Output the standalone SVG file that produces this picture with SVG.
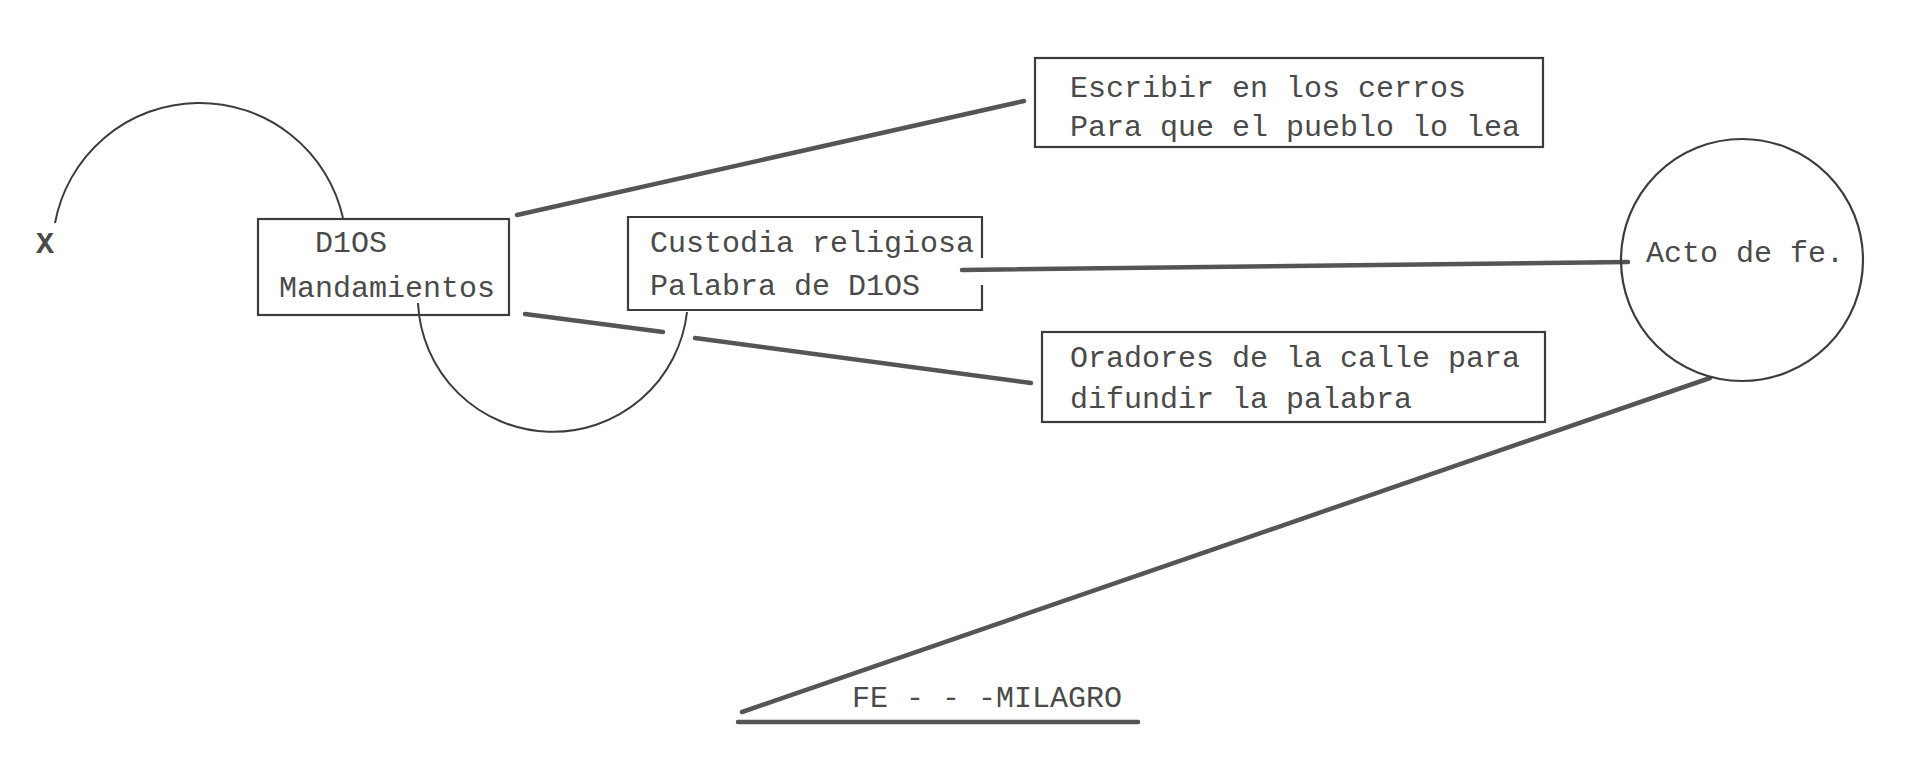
<svg xmlns="http://www.w3.org/2000/svg" width="1920" height="776" viewBox="0 0 1920 776">
  <style>
    .box { fill: none; stroke: #3c3c3c; stroke-width: 2.2; }
    .t { font-family: "Liberation Mono", "Courier New", monospace; font-size: 30px; fill: #4a4a4a; }
    .thick { stroke: #555; stroke-width: 4.5; stroke-linecap: round; fill: none; }
    .arc { stroke: #3c3c3c; stroke-width: 2; fill: none; }
  </style>
  <rect width="1920" height="776" fill="#ffffff"/>

  <g id="connectors">
    <path class="arc" d="M 55 223 A 147 147 0 0 1 343 218"/>
    <path class="arc" d="M 418 303 A 135 135 0 0 0 687 312"/>
    <line class="thick" x1="517" y1="215" x2="1024" y2="101"/>
    <line class="thick" x1="525" y1="314" x2="663" y2="332"/>
    <line class="thick" x1="695" y1="338" x2="1031" y2="383"/>
    <line class="thick" x1="962" y1="270" x2="1628" y2="262"/>
    <line class="thick" x1="1710" y1="378" x2="742" y2="712" stroke-width="3.5"/>
  </g>

  <g id="node-x">
    <text class="t" x="36" y="253" font-weight="bold">X</text>
  </g>

  <g id="node-dios">
    <rect class="box" x="258" y="219" width="251" height="96"/>
    <text class="t" x="315" y="252">D1OS</text>
    <text class="t" x="279" y="297">Mandamientos</text>
  </g>

  <g id="node-custodia">
    <path class="box" d="M 982 258 L 982 217 L 628 217 L 628 310 L 982 310 L 982 285"/>
    <text class="t" x="650" y="252">Custodia religiosa</text>
    <text class="t" x="650" y="295">Palabra de D1OS</text>
  </g>

  <g id="node-escribir">
    <rect class="box" x="1035" y="58" width="508" height="89"/>
    <text class="t" x="1070" y="97">Escribir en los cerros</text>
    <text class="t" x="1070" y="136">Para que el pueblo lo lea</text>
  </g>

  <g id="node-oradores">
    <rect class="box" x="1042" y="332" width="503" height="90"/>
    <text class="t" x="1070" y="367">Oradores de la calle para</text>
    <text class="t" x="1070" y="408">difundir la palabra</text>
  </g>

  <g id="node-acto">
    <circle class="box" cx="1742" cy="260" r="121" stroke-width="3"/>
    <text class="t" x="1646" y="262">Acto de fe.</text>
  </g>

  <g id="node-fe">
    <text class="t" x="852" y="707">FE - - -MILAGRO</text>
    <line class="thick" x1="738" y1="722" x2="1138" y2="722" stroke-width="5"/>
  </g>
</svg>
